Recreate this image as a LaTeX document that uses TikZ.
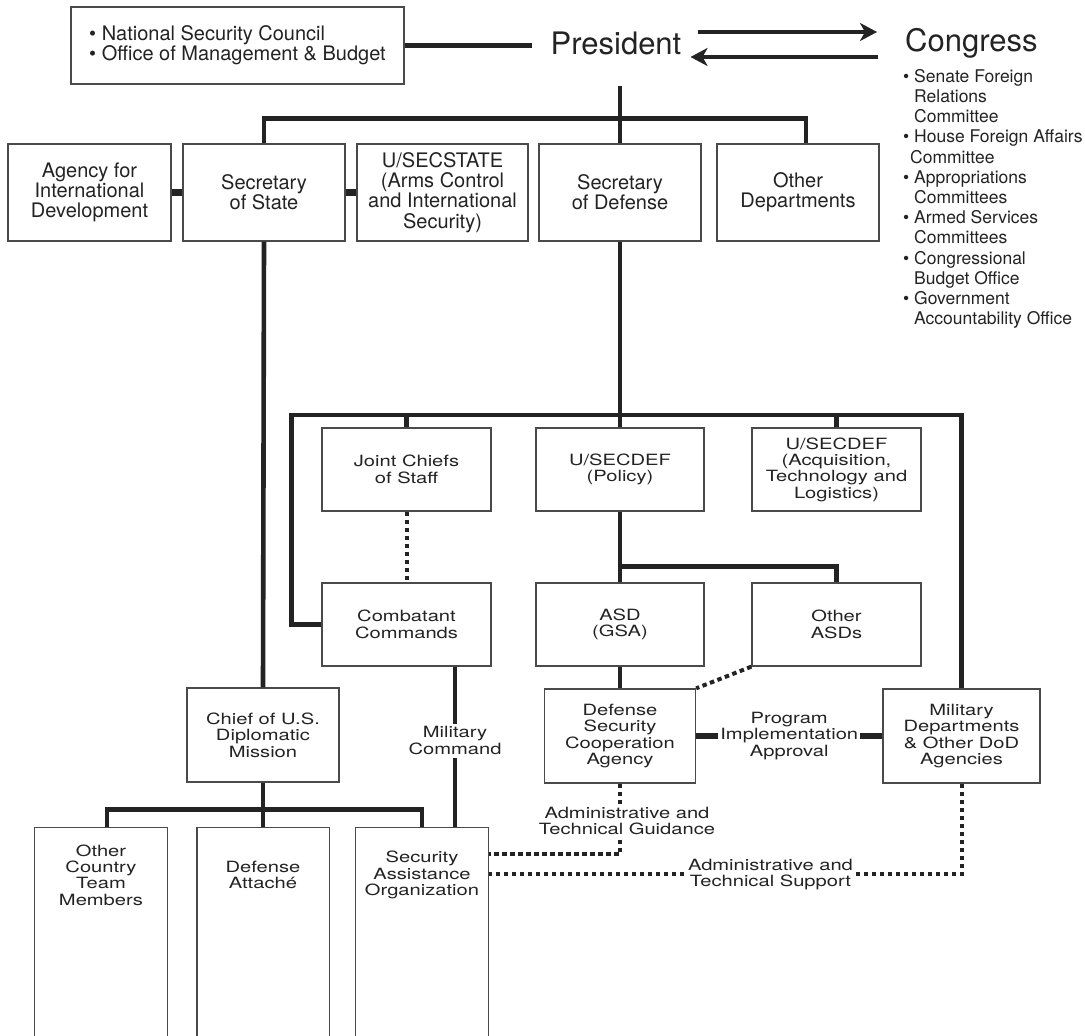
\documentclass[tikz,border=0pt]{standalone}
\usepackage{fontspec}
\setmainfont{TeX Gyre Heros}
\newfontfamily\lowfont{TeX Gyre Heros}[FakeStretch=1.3]
\usetikzlibrary{arrows.meta}
\definecolor{inkc}{HTML}{232323}
\definecolor{framec}{HTML}{4A4A4A}
\newcommand{\cind}{\phantom{\textbullet\ }}
\tikzset{
  topbox/.style={draw=framec, line width=1.3pt, fill=white, inner sep=0pt, minimum width=162pt, minimum height=97pt, align=center, text=inkc, font=\fontsize{20pt}{20.3pt}\selectfont},
  lowbox/.style={draw=framec, line width=1.3pt, fill=white, inner sep=0pt, minimum width=169pt, minimum height=83pt, align=center, text=inkc, font=\lowfont\fontsize{15.5pt}{16.4pt}\selectfont},
  openbox/.style={lowbox, draw=none, minimum width=132pt, minimum height=94pt},
  frame/.style={draw=framec, line width=1.3pt},
  lbl/.style={fill=white, inner xsep=2pt, inner ysep=3pt, align=center, text=inkc, font=\lowfont\fontsize{15.5pt}{16.4pt}\selectfont},
  big/.style={text=inkc, inner sep=0pt, font=\fontsize{31pt}{32pt}\selectfont},
  conn/.style={draw=inkc, line width=4.6pt},
  stub/.style={draw=inkc, line width=6.5pt},
  dotconn/.style={draw=inkc, line width=4pt, dash pattern=on 4.5pt off 3.5pt},
  arr/.style={draw=inkc, line width=4.8pt, -{Stealth[length=17pt,width=18pt,inset=5pt]}}
}
\begin{document}
\begin{tikzpicture}[x=1pt,y=-1pt]
  \useasboundingbox[fill=white] (0,0) rectangle (1085,1036);
  \clip (0,0) rectangle (1085,1036);

  \node[draw=framec, line width=1.3pt, inner sep=0pt, minimum width=333pt, minimum height=77pt, align=left, text=inkc, font=\fontsize{20pt}{20pt}\selectfont] (nsc) at (237.5,45.5) {\textbullet\ National Security Council\\\textbullet\ Office of Management \& Budget};
  \node[big, anchor=base] (pres) at (616,54) {President};
  \node[big, anchor=base west] (cong) at (905,51) {Congress};
  \node[anchor=north west, inner sep=0pt, align=left, text=inkc, font=\fontsize{17.5pt}{20.2pt}\selectfont] (clist) at (903,69) {\textbullet\ Senate Foreign\\\cind Relations\\\cind Committee\\\textbullet\ House Foreign Affairs\\\hspace*{7pt}Committee\\\textbullet\ Appropriations\\\cind Committees\\\textbullet\ Armed Services\\\cind Committees\\\textbullet\ Congressional\\\cind Budget Office\\\textbullet\ Government\\\cind Accountability Office};

  \node[topbox, minimum width=163pt] (agy) at (89.5,192.5) {Agency for\\International\\Development};
  \node[topbox] (sst) at (264,192.5) {Secretary\\of State};
  \node[topbox, minimum width=171pt] (uss) at (442.5,192.5) {U/SECSTATE\\(Arms Control\\and International\\Security)};
  \node[topbox] (sdf) at (620,192.5) {Secretary\\of Defense};
  \node[topbox] (odp) at (798,192.5) {Other\\Departments};

  \node[lowbox] (jcs) at (406.5,469.5) {Joint Chiefs\\of Staff};
  \node[lowbox, minimum width=168pt] (pol) at (620,469.5) {U/SECDEF\\(Policy)};
  \node[lowbox] (atl) at (836.5,469.5) {U/SECDEF\\(Acquisition,\\Technology and\\Logistics)};
  \node[lowbox] (cc) at (406.5,624.5) {Combatant\\Commands};
  \node[lowbox, minimum width=168pt] (asd) at (620,624.5) {ASD\\(GSA)};
  \node[lowbox] (oas) at (836.5,624.5) {Other\\ASDs};
  \node[lowbox, minimum width=151pt, minimum height=94pt] (dsca) at (620,736) {Defense\\Security\\Cooperation\\Agency};
  \node[lowbox, minimum width=157pt, minimum height=94pt] (mil) at (961.5,736) {Military\\Departments\\\& Other DoD\\Agencies};
  \node[lowbox, minimum width=152pt, minimum height=94pt] (cdm) at (263,735) {Chief of U.S.\\Diplomatic\\Mission};

  \node[openbox] (oct) at (101,875) {Other\\Country\\Team\\Members};
  \node[openbox, minimum width=131pt] (dat) at (263,875) {Defense\\Attach\'e};
  \node[openbox] (sao) at (422,875) {Security\\Assistance\\Organization};
  \draw[frame] ([yshift=-150pt]oct.south west) |- (oct.north east) -- ([yshift=-150pt]oct.south east);
  \draw[frame] ([yshift=-150pt]dat.south west) |- (dat.north east) -- ([yshift=-150pt]dat.south east);
  \draw[frame] ([yshift=-150pt]sao.south west) |- (sao.north east) -- ([yshift=-150pt]sao.south east);

  \draw[conn, shorten >=18pt] (nsc.east) -- (nsc.east -| pres.west);
  \draw[arr, shorten <=16pt, shorten >=28pt] (pres.east |- 0,32) -- (cong.west |- 0,32);
  \draw[arr, shorten <=27pt, shorten >=9pt] (cong.west |- 0,57) -- (pres.east |- 0,57);

  \draw[conn] (sdf.north) -- ++(0,-57);
  \draw[conn] (sst.north) -- ++(0,-25) -| ([xshift=8pt]odp.north);
  \draw[stub] (agy.east) -- (sst.west);
  \draw[stub] (sst.east) -- (uss.west);
  \draw[conn] (sst.south) -- (cdm.north);

  \coordinate (dodbar) at (620,415);
  \draw[conn] (sdf.south) -- (pol.north);
  \draw[conn] (cc.west) -- ++(-30,0) |- (dodbar) -| (mil.north);
  \draw[conn] (jcs.north) -- (jcs.north |- dodbar);
  \draw[conn] (atl.north) -- (atl.north |- dodbar);
  \draw[dotconn] (jcs.south) -- (cc.north);
  \draw[conn] (pol.south) -- (asd.north);
  \draw[conn] (asd.north) ++(0,-16) -| (oas.north);
  \draw[conn] (asd.south) -- (dsca.north);
  \draw[dotconn] (oas.south west) -- (dsca.north east);

  \draw[conn] ([xshift=48.5pt]cc.south) -- ([xshift=48.5pt]cc.south |- sao.north) node[lbl, pos=0.46] {Military\\Command};
  \draw[stub] (dsca.east) -- (mil.west) node[lbl, midway] {Program\\Implementation\\Approval};

  \draw[conn] (cdm.south) -- (dat.north);
  \draw[conn] ([xshift=6pt]oct.north) -- ++(0,-18) -| (sao.north);

  \draw[dotconn] (dsca.south) |- ([yshift=-27pt]sao.north east) node[lbl, pos=0.265, xshift=7pt] {Administrative and\\Technical Guidance};
  \draw[dotconn] (mil.south) |- ([yshift=-47pt]sao.north east) node[lbl, pos=0.702] {Administrative and\\Technical Support};
\end{tikzpicture}
\end{document}
